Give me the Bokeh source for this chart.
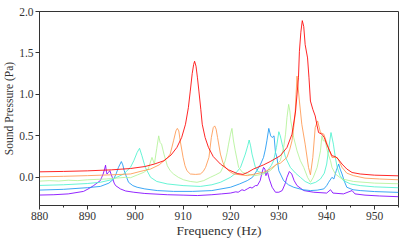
from bokeh.plotting import figure
from bokeh.models import Range1d, FixedTicker, PrintfTickFormatter
from bokeh.embed import file_html
from bokeh.resources import INLINE

# ---- tick definitions ----
x_ticks = [880, 890, 900, 910, 920, 930, 940, 950]
x_minor_ticks = [885, 895, 905, 915, 925, 935, 945, 955]
y_ticks = [0.0, 0.5, 1.0, 1.5, 2.0]

# ---- series (frequency in Hz, sound pressure in Pa, offset per measurement) ----
red_f = [880, 885, 890, 895, 899, 902, 904, 906, 907.5, 908.7, 909.7, 910.5, 911.1, 911.5, 911.9, 912.2,
         912.4, 912.7, 913.0, 913.3, 913.7, 914.0, 914.6, 915.3, 916.3, 917.8, 919.5, 921.3, 922.5, 923.5,
         924.7, 926.8, 928.2, 930.3, 931.7, 932.75, 933.5, 934.1, 934.3, 934.6, 934.9, 935.2, 935.5, 936.0,
         936.3, 936.6, 937.1, 937.6, 938.0, 938.3, 939.0, 939.5, 940.0, 940.6, 941.1, 941.8, 942.4, 943.2,
         944.2, 945.3, 947, 950, 955]
red_p = [0.066, 0.071, 0.078, 0.09, 0.106, 0.13, 0.16, 0.2, 0.27, 0.36, 0.48, 0.64, 0.84, 1.04, 1.25, 1.36,
         1.40, 1.34, 1.2, 1.04, 0.82, 0.64, 0.48, 0.36, 0.25, 0.16, 0.09, 0.046, 0.035, 0.06,
         0.1, 0.15, 0.19, 0.26, 0.36, 0.52, 0.8, 1.2, 1.52, 1.75, 1.89, 1.82, 1.6, 1.44,
         1.2, 0.92, 0.82, 0.74, 0.62, 0.54, 0.52, 0.48, 0.40, 0.32, 0.26, 0.25, 0.22, 0.16,
         0.1, 0.058, 0.04, 0.026, 0.018]

orange_f = [880, 885, 890, 895, 899, 901, 903.2, 905, 906, 906.8, 907.3, 908, 908.5, 908.8, 909.1, 909.4,
            910.0, 910.4, 910.8, 911.5, 912.6, 913.6, 914.2, 914.7, 915.4, 915.9, 916.3, 916.6, 916.9, 917.2,
            917.8, 918.3, 918.8, 919.7, 920.6, 922, 923.4, 925, 926.8, 928.2, 929.6, 930.3, 931.7, 932.3,
            932.75, 933.1, 933.4, 933.6, 933.8, 934.0, 934.3, 934.8, 935.5, 936.2, 936.6, 937.1, 937.6, 938.1,
            938.7, 939.4, 940.1, 941.1, 942.2, 943.2, 944.2, 945.6, 948, 951, 955]
orange_p = [0.006, 0.012, 0.02, 0.03, 0.04, 0.07, 0.1, 0.15, 0.2, 0.24, 0.28, 0.44, 0.56, 0.59, 0.56, 0.44,
            0.24, 0.14, 0.08, 0.04, 0.035, 0.04, 0.07, 0.12, 0.24, 0.48, 0.6, 0.62, 0.58, 0.48,
            0.28, 0.18, 0.12, 0.07, 0.04, 0.03, 0.02, 0.04, 0.06, 0.1, 0.16, 0.17, 0.24, 0.34,
            0.44, 0.6, 0.76, 1.0, 1.22, 1.1, 0.92, 0.64, 0.4, 0.12, 0.03, 0.24, 0.6, 0.68,
            0.54, 0.52, 0.40, 0.24, 0.24, 0.12, 0.05, 0.02, -0.01, -0.02, -0.03]

green_f = [880, 882, 884, 886, 888, 890, 892, 894, 896, 898, 899, 900.5, 901.8, 902.7, 903.5, 904.0,
           904.5, 904.9, 905.2, 905.5, 906.0, 906.7, 907.3, 908, 909, 910.1, 911.5, 912.9, 914.3, 915.7,
           916.8, 917.8, 918.3, 918.8, 919.2, 919.5, 919.9, 920.2, 920.5, 920.9, 921.6, 922.4, 923.4, 925,
           926.8, 928.2, 929.3, 930.3, 931.0, 931.4, 931.7, 932.05, 932.3, 932.5, 933.1, 933.8, 934.5, 935.2,
           936.0, 936.6, 937.2, 938.0, 938.7, 939.0, 939.3, 939.7, 940.2, 940.8, 941.1, 941.8, 943.2, 945.6,
           950, 955]
green_p = [-0.046, -0.04, -0.045, -0.035, -0.04, -0.03, -0.025, -0.02, -0.01, 0.0, -0.005, 0.03, 0.06, 0.1, 0.24, 0.16,
           0.35, 0.50, 0.42, 0.40, 0.28, 0.14, 0.08, 0.04, 0.0, -0.03, -0.05, -0.06, -0.04, 0.0,
           0.03, 0.06, 0.12, 0.2, 0.3, 0.4, 0.52, 0.59, 0.45, 0.32, 0.12, 0.06, 0.04, 0.02,
           0.04, 0.08, 0.14, 0.2, 0.36, 0.52, 0.72, 0.88, 0.8, 0.68, 0.48, 0.32, 0.2, 0.12,
           0.0, -0.06, 0.0, 0.12, 0.32, 0.5, 0.44, 0.44, 0.3, 0.2, 0.12, 0.04, -0.02, -0.05,
           -0.07, -0.078]

cyan_f = [880, 885, 890, 892.7, 895, 897.6, 899, 899.7, 900.4, 900.9, 901.4, 902.1, 903.2, 904.5, 906.7, 910,
          913.6, 916, 917.8, 919.9, 921, 922, 923, 923.5, 923.8, 924.1, 924.4, 925.1, 925.6, 926.8,
          927.5, 928.4, 928.9, 929.5, 930.0, 930.3, 930.7, 931.4, 932.4, 933.5, 934.5, 935.5, 936.6, 937.7,
          938.7, 939.5, 940.0, 940.5, 940.9, 941.4, 941.8, 942.2, 942.8, 943.5, 945, 947, 950, 955]
cyan_p = [-0.098, -0.09, -0.075, -0.06, -0.03, 0.04, 0.12, 0.2, 0.3, 0.35, 0.26, 0.12, 0.0, -0.05, -0.08, -0.1,
          -0.11, -0.09, -0.06, 0.0, 0.05, 0.12, 0.28, 0.38, 0.45, 0.38, 0.28, 0.12, 0.07, 0.05,
          0.07, 0.14, 0.2, 0.36, 0.55, 0.5, 0.4, 0.24, 0.12, 0.05, 0.0, -0.05, -0.08, -0.06,
          -0.02, 0.05, 0.16, 0.38, 0.54, 0.4, 0.24, 0.12, 0.02, -0.04, -0.08, -0.1, -0.115, -0.126]

blue_f = [880, 885, 890, 892.7, 894.5, 895.5, 896.0, 896.5, 897.1, 897.4, 897.7, 898.2, 898.6, 899.5, 900.4, 902,
          904.6, 908, 912, 916, 919.9, 921.8, 923.4, 924.5, 925.4, 926.2, 926.8, 927.2, 927.5, 927.9,
          928.3, 928.6, 929.0, 929.3, 929.6, 930.0, 931.0, 932, 933.1, 935, 936.6, 938, 939.4, 940.0,
          940.4, 941.1, 941.5, 942.0, 942.5, 942.8, 943.2, 943.7, 944.2, 945.5, 947, 950, 955]
blue_p = [-0.154, -0.145, -0.125, -0.11, -0.07, -0.02, 0.04, 0.12, 0.19, 0.15, 0.08, 0.0, -0.06, -0.1, -0.12, -0.14,
          -0.16, -0.17, -0.17, -0.16, -0.12, -0.08, -0.04, 0.0, 0.08, 0.16, 0.24, 0.34, 0.44, 0.59,
          0.5, 0.48, 0.5, 0.3, 0.24, 0.08, -0.04, -0.09, -0.12, -0.15, -0.16, -0.155, -0.14, -0.1,
          -0.06, 0.0, -0.02, 0.08, 0.16, 0.1, 0.04, -0.05, -0.12, -0.15, -0.16, -0.172, -0.182]

purple_f = [880, 883, 886, 889.2, 890.5, 891.3, 892, 892.7, 893.0, 893.3, 893.6, 893.8, 894.0, 894.1, 894.4, 894.7,
            895.0, 895.2, 895.6, 895.9, 896.9, 898, 899.7, 902, 906.7, 910, 913, 916, 918, 919.9,
            921, 921.5, 922.3, 922.8, 923.4, 924, 924.4, 925.1, 925.5, 926.1, 926.5, 926.8, 927.1, 927.3,
            927.6, 928.0, 928.6, 929.3, 930, 930.7, 931.3, 931.7, 932.2, 932.7, 933.2, 933.8, 935.2, 937.3,
            940, 940.8, 941.3, 943.5, 945.3, 945.9, 948, 951, 955]
purple_p = [-0.214, -0.21, -0.2, -0.17, -0.13, -0.1, -0.07, -0.04, 0.0, 0.04, 0.1, 0.146, 0.06, 0.04, 0.06, 0.08,
            0.03, 0.0, -0.07, -0.1, -0.14, -0.165, -0.18, -0.195, -0.21, -0.215, -0.22, -0.21, -0.2, -0.19,
            -0.175, -0.18, -0.15, -0.16, -0.14, -0.12, -0.13, -0.1, -0.1, -0.04, 0.06, 0.12, 0.1, 0.02,
            0.07, -0.02, -0.12, -0.18, -0.18, -0.16, -0.08, 0.0, 0.07, 0.04, -0.04, -0.1, -0.16, -0.18,
            -0.19, -0.15, -0.19, -0.2, -0.16, -0.2, -0.215, -0.225, -0.234]

series = [
    (purple_f, purple_p, "#8000ff"),
    (blue_f, blue_p, "#1a96f3"),
    (cyan_f, cyan_p, "#4cf2ce"),
    (green_f, green_p, "#b3f296"),
    (orange_f, orange_p, "#ff964f"),
    (red_f, red_p, "#ff0000"),
]

FONT = "Liberation Serif"
TXT = "#333333"

p = figure(width=407, height=244, output_backend="svg", toolbar_location=None,
           x_range=Range1d(880, 955), y_range=Range1d(-0.34, 2.0),
           min_border_left=39, min_border_right=9, min_border_top=11, min_border_bottom=39)
p.background_fill_color = "white"
p.border_fill_color = "white"
p.outline_line_color = TXT
p.outline_line_width = 1
p.xgrid.visible = False
p.ygrid.visible = False

for f, v, c in series:
    p.line(f, v, line_color=c, line_width=1, line_alpha=0.85)

p.xaxis.ticker = FixedTicker(ticks=x_ticks, minor_ticks=x_minor_ticks)
p.yaxis.ticker = FixedTicker(ticks=y_ticks)
p.yaxis.formatter = PrintfTickFormatter(format="%.1f")
p.xaxis.axis_label = "Frequency (Hz)"
p.yaxis.axis_label = "Sound Pressure (Pa)"

for ax in (p.xaxis, p.yaxis):
    ax.axis_line_color = TXT
    ax.major_tick_line_color = TXT
    ax.minor_tick_line_color = TXT
    ax.major_tick_in = 0
    ax.major_tick_out = 4
    ax.minor_tick_in = 0
    ax.minor_tick_out = 2
    ax.major_label_text_font = FONT
    ax.major_label_text_font_size = "11.5px"
    ax.major_label_text_color = TXT
    ax.axis_label_text_font = FONT
    ax.axis_label_text_font_style = "normal"
    ax.axis_label_text_color = TXT
    ax.major_label_standoff = 2

p.yaxis.minor_tick_line_color = None
p.xaxis.axis_label_text_font_size = "13.5px"
p.yaxis.axis_label_text_font_size = "11.5px"
p.xaxis.axis_label_standoff = 0
p.yaxis.axis_label_standoff = 1

open("out.html", "w").write(file_html(p, INLINE))
